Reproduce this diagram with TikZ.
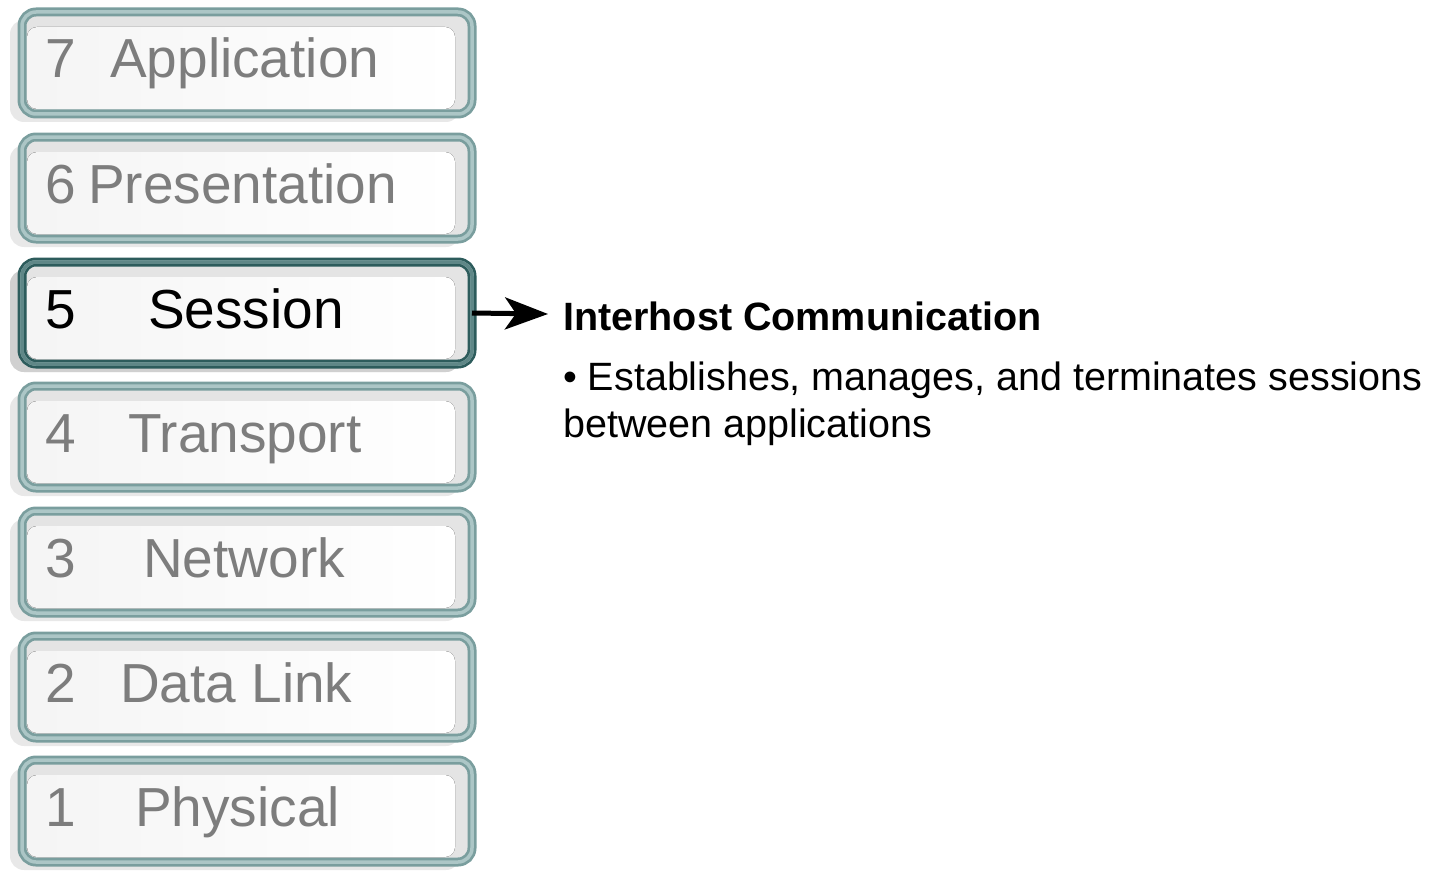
\documentclass[tikz,border=0pt]{standalone}
\usepackage{fontspec}
\setmainfont{Liberation Sans}
\usetikzlibrary{arrows.meta,calc}
\definecolor{bdark}{RGB}{122,158,158}
\definecolor{blight}{RGB}{172,198,198}
\definecolor{sdark}{RGB}{45,92,92}
\definecolor{slight}{RGB}{95,135,135}
\definecolor{shad}{RGB}{232,232,232}
\definecolor{sshad}{RGB}{208,208,208}
\definecolor{band}{RGB}{228,228,228}
\definecolor{lbl}{RGB}{125,125,125}
\tikzset{
  layer/.style={draw=bdark, line width=9pt, rounded corners=14pt, fill=band,
    minimum width=450pt, minimum height=102pt, outer sep=0pt, inner sep=0pt,
    preaction={fill=shad, transform canvas={shift={(-12,8)}}},
    postaction={draw=blight, line width=3.5pt}},
  active/.style={draw=sdark, fill=band,
    preaction={fill=sshad, transform canvas={shift={(-12,8)}}},
    postaction={draw=slight, line width=3.5pt}},
  lbltext/.style={anchor=base west, inner sep=0pt, text=lbl, font=\fontsize{55}{60}\selectfont},
  acttext/.style={lbltext, text=black},
  inwhite/.style={left color=white!96!black, right color=white, rounded corners=10pt},
  desc/.style={anchor=base west, inner sep=0pt, font=\fontsize{39.5}{47}\selectfont}
}
\begin{document}
\begin{tikzpicture}[x=1pt,y=-1pt]
\useasboundingbox (0,0) rectangle (1431,872);
% layers
\foreach \n/\t/\num/\word/\wx/\st in {
  L7/8/7/Application/110/lbltext,
  L6/133/6/Presentation/88/lbltext,
  L4/382/4/Transport/128/lbltext,
  L3/507/3/Network/143/lbltext,
  L2/632/2/Data Link/120/lbltext,
  L1/756/1/Physical/135/lbltext}{
  \node[layer] (\n) at (247,\t+55) {};
  \fill[inwhite] ($(\n.north west)+(5,15)$) rectangle ($(\n.south east)+(-17,-5)$);
  \node[\st] (\n num) at (45,\t+70) {\num};
  \node[\st] (\n word) at (\wx,\t+70) {\word};
}
\node[layer, active] (L5) at (247,313) {};
\fill[inwhite] ($(L5.north west)+(5,15)$) rectangle ($(L5.south east)+(-17,-5)$);
\node[acttext] (L5num) at (45,328) {5};
\node[acttext] (L5word) at (148,328) {Session};
% description
\node[desc, font=\fontsize{39.5}{47}\selectfont\bfseries] (head) at (563,330) {Interhost Communication};
\node[desc] (d1) at (563,390) {• Establishes, manages, and terminates sessions};
\node[desc] (d2) at (563,437) {between applications};
\coordinate (tip) at (548,314);
\draw[line width=5pt, -{Stealth[length=43pt,width=32pt,inset=11pt]}] (L5.east) -- (tip);
\end{tikzpicture}
\end{document}
